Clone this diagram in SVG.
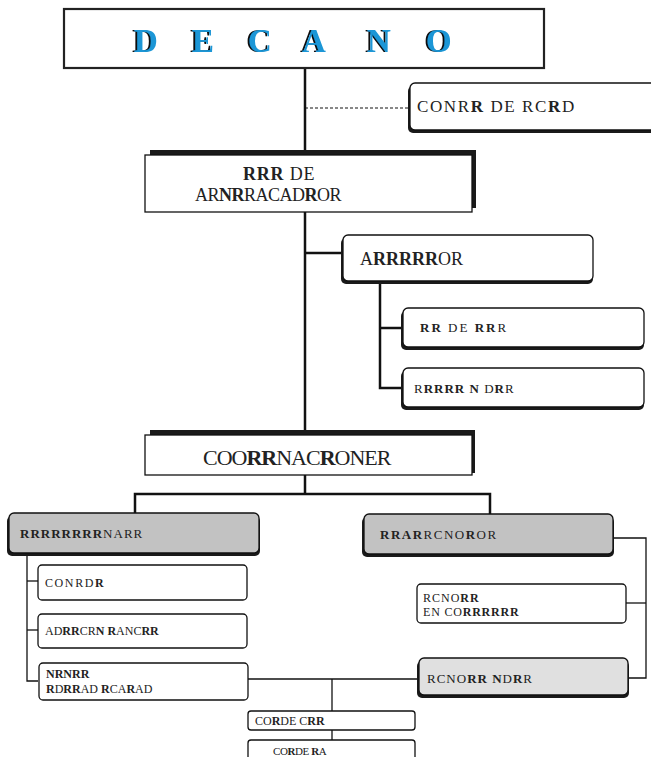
<svg xmlns="http://www.w3.org/2000/svg" width="651" height="757" viewBox="0 0 651 757">
<defs>
<filter id="decsh" x="-10%" y="-10%" width="120%" height="120%">
<feOffset in="SourceAlpha" dx="-2" dy="0" result="o"/>
<feFlood flood-color="#111"/>
<feComposite in2="o" operator="in" result="s"/>
<feMerge><feMergeNode in="s"/><feMergeNode in="SourceGraphic"/></feMerge>
</filter>
</defs>
<style>
text{font-family:'Liberation Serif','Times New Roman',Times,serif}
.t{fill:#222}
.b{font-weight:bold}
.box{fill:#fff;stroke:#111;stroke-width:1.3}
.sh{fill:#1a1a1a}
.ln{stroke:#111;stroke-width:2.5;fill:none}
.thin{stroke:#111;stroke-width:1.3;fill:none}
.dec{font-weight:bold;font-size:33px;fill:#1a96d6}
</style>
<g id="connectors">
<line class="ln" x1="305" y1="68" x2="305" y2="494"/>
<line x1="305" y1="108" x2="409" y2="108" stroke="#111" stroke-width="1" stroke-dasharray="3,2"/>
<line class="ln" x1="305" y1="253" x2="342" y2="253"/>
<polyline class="ln" points="380,283 380,388 402,388"/>
<line class="ln" x1="380" y1="328" x2="402" y2="328"/>
<polyline class="ln" points="135,514 135,494 490,494 490,514"/>
<polyline class="thin" points="613,538 646,538 646,678 628,678"/>
<line class="thin" x1="626" y1="603" x2="646" y2="603"/>
<polyline class="thin" points="27,553 27,681 38,681"/>
<line class="thin" x1="27" y1="581" x2="38" y2="581"/>
<line class="thin" x1="27" y1="630" x2="38" y2="630"/>
<line class="thin" x1="247" y1="679" x2="418" y2="679"/>
<line class="thin" x1="332" y1="679" x2="332" y2="711"/>
<line class="thin" x1="332" y1="730" x2="332" y2="740"/>
</g>
<g id="decano">
<rect x="64" y="9" width="480" height="59" fill="#fff" stroke="#222" stroke-width="2.2"/>
<text class="dec" y="52" filter="url(#decsh)"><tspan x="134">D</tspan><tspan x="192">E</tspan><tspan x="248">C</tspan><tspan x="302">A</tspan><tspan x="367">N</tspan><tspan x="426">O</tspan></text>
</g>
<g id="consejo">
<rect class="sh" x="408" y="86" width="250" height="47" rx="5"/>
<rect class="box" x="410" y="83" width="248" height="47" rx="5"/>
<text class="t" x="417" y="112" font-size="17" letter-spacing="1.6">CONR<tspan class="b">R</tspan> DE RC<tspan class="b">R</tspan>D</text>
</g>
<g id="vicedecano">
<rect class="sh" x="150" y="150" width="326" height="58"/>
<rect class="box" x="145" y="155" width="327" height="57"/>
<text class="t" x="243" y="180" font-size="18" letter-spacing="0.8"><tspan class="b">RRR</tspan> DE</text>
<text class="t" x="195" y="201" font-size="18" letter-spacing="-0.5">AR<tspan class="b">NR</tspan>RACAD<tspan class="b">R</tspan>OR</text>
</g>
<g id="asesor">
<rect class="sh" x="341" y="238" width="252" height="46" rx="5"/>
<rect class="box" x="343" y="235" width="250" height="46" rx="5"/>
<text class="t" x="360" y="265" font-size="18">A<tspan class="b">RRRRR</tspan>OR</text>
</g>
<g id="box-rr-de-rror">
<rect class="sh" x="401" y="311" width="243" height="39" rx="5"/>
<rect class="box" x="403" y="308" width="241" height="39" rx="5"/>
<text class="t" x="420" y="332" font-size="13" letter-spacing="2"><tspan class="b">RR</tspan> DE <tspan class="b">RR</tspan>R</text>
</g>
<g id="box-rororr">
<rect class="sh" x="401" y="371" width="243" height="39" rx="5"/>
<rect class="box" x="403" y="368" width="241" height="39" rx="5"/>
<text class="t" x="414" y="393" font-size="13" letter-spacing="1">R<tspan class="b">RRRR</tspan> <tspan class="b">N</tspan> D<tspan class="b">R</tspan>R</text>
</g>
<g id="coordinaciones">
<rect class="sh" x="150" y="430" width="325" height="43"/>
<rect class="box" x="145" y="435" width="327" height="40"/>
<text class="t" x="203" y="465" font-size="22" letter-spacing="-1">COO<tspan class="b">RR</tspan>NAC<tspan class="b">R</tspan>ONER</text>
</g>
<g id="left-gray">
<rect class="sh" x="7" y="516" width="253" height="40" rx="5"/>
<rect x="9" y="513" width="250" height="40" rx="5" fill="#c2c2c2" stroke="#111" stroke-width="1.3"/>
<text class="t" x="20" y="538" font-size="13" letter-spacing="1"><tspan class="b">RRRRRRRR</tspan>NARR</text>
</g>
<g id="right-gray">
<rect class="sh" x="362" y="517" width="252" height="40" rx="5"/>
<rect x="364" y="514" width="249" height="40" rx="5" fill="#c2c2c2" stroke="#111" stroke-width="1.3"/>
<text class="t" x="380" y="539" font-size="13" letter-spacing="1.5"><tspan class="b">RRAR</tspan>RCNO<tspan class="b">R</tspan>OR</text>
</g>
<g id="conrdr">
<rect class="box" x="38" y="565" width="209" height="35" rx="4"/>
<text class="t" x="45" y="587" font-size="12" letter-spacing="1.6">CONRD<tspan class="b">R</tspan></text>
</g>
<g id="adrrcrn">
<rect class="box" x="38" y="614" width="209" height="34" rx="4"/>
<text class="t" x="45" y="635" font-size="12">AD<tspan class="b">RR</tspan>CR<tspan class="b">N</tspan> <tspan class="b">R</tspan>ANC<tspan class="b">RR</tspan></text>
</g>
<g id="nrnrr">
<rect class="box" x="39" y="663" width="209" height="37" rx="4"/>
<text class="t b" x="46" y="678" font-size="12">NRNRR</text>
<text class="t" x="46" y="693" font-size="12"><tspan class="b">R</tspan>D<tspan class="b">RR</tspan>AD <tspan class="b">R</tspan>CA<tspan class="b">R</tspan>AD</text>
</g>
<g id="rcnorr-en">
<rect class="box" x="417" y="584" width="209" height="39" rx="4"/>
<text class="t" x="423" y="602" font-size="12" letter-spacing="1">RCNO<tspan class="b">RR</tspan></text>
<text class="t" x="423" y="616" font-size="12" letter-spacing="0.8">EN CO<tspan class="b">RRRRRR</tspan></text>
</g>
<g id="rcnorr-ndrr">
<rect class="sh" x="417" y="661" width="212" height="37" rx="5"/>
<rect x="419" y="658" width="209" height="37" rx="5" fill="#e0e0e0" stroke="#111" stroke-width="1.3"/>
<text class="t" x="427" y="683" font-size="13" letter-spacing="1">RCNO<tspan class="b">RR</tspan> <tspan class="b">N</tspan>D<tspan class="b">R</tspan>R</text>
</g>
<g id="corde-crr">
<rect class="box" x="248" y="711" width="167" height="19" rx="3"/>
<text class="t" x="255" y="725" font-size="12">CO<tspan class="b">R</tspan>DE C<tspan class="b">RR</tspan></text>
</g>
<g id="corde-ra">
<rect class="box" x="248" y="740" width="167" height="24" rx="3"/>
<text class="t" x="273" y="755" font-size="11" letter-spacing="-0.4">CO<tspan class="b">R</tspan>DE <tspan class="b">R</tspan>A</text>
</g>
</svg>
